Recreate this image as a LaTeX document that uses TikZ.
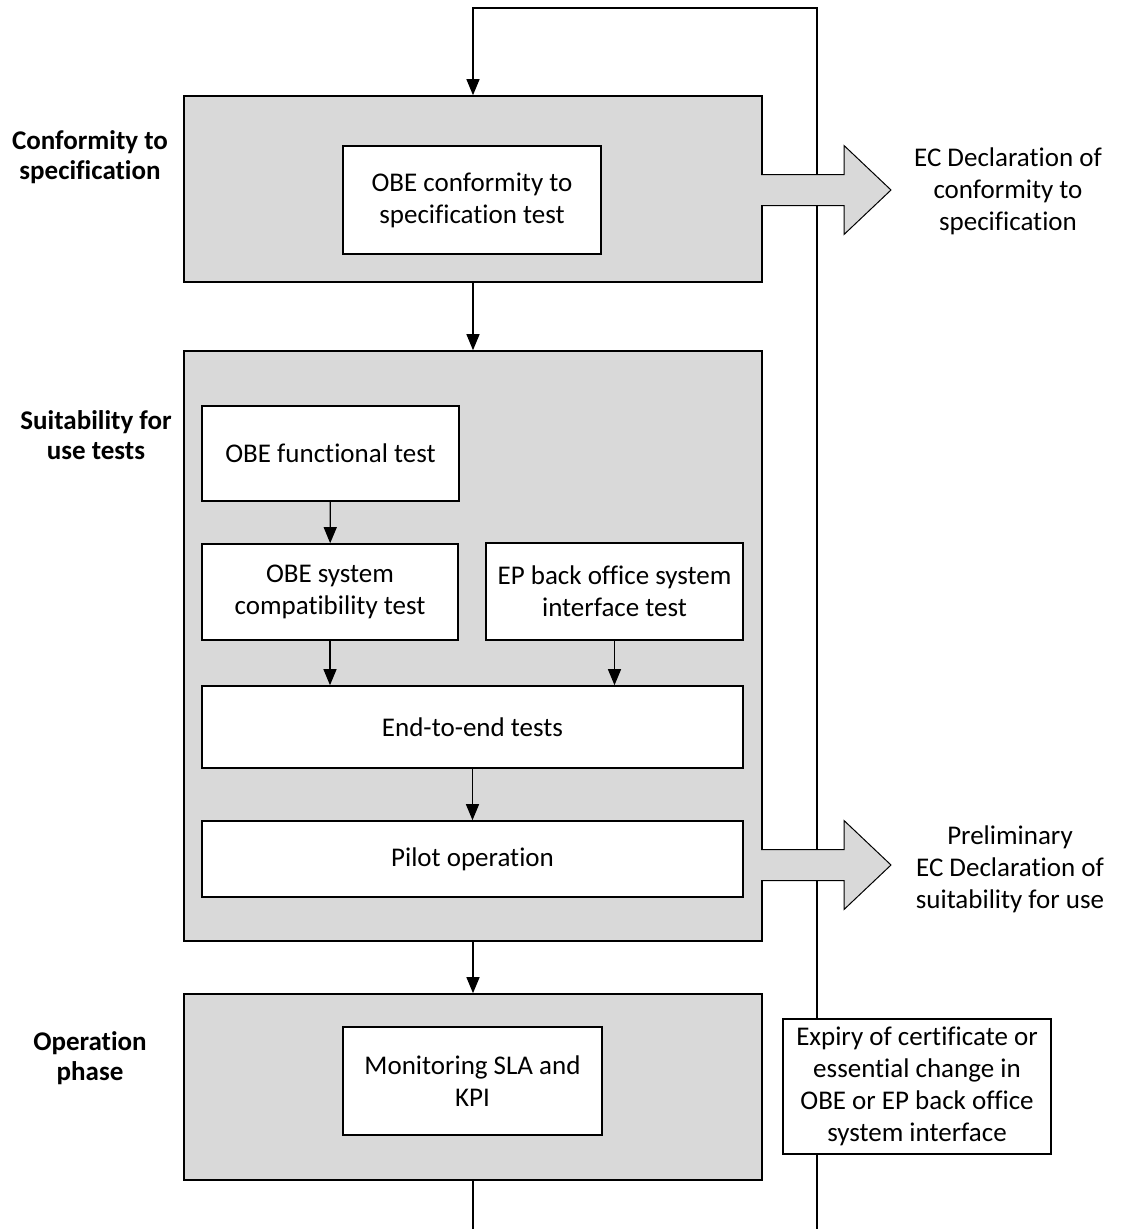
\documentclass[tikz,border=0pt]{standalone}
\usepackage{fontspec}
\setmainfont{Carlito}[Ligatures=NoCommon]
\usetikzlibrary{arrows.meta}
\definecolor{boxgray}{HTML}{D9D9D9}
\tikzset{
  every node/.style={font=\fontsize{27}{32}\selectfont, align=center, inner sep=0pt},
  phase/.style={draw, fill=boxgray, line width=1.6pt, minimum width=578pt},
  test/.style={draw, fill=white, line width=1.6pt},
  arr/.style={line width=1.2pt, -{Triangle[length=16pt,width=13pt]}},
  link/.style={line width=1.2pt},
  fatarr/.style={fill=boxgray, draw, line width=1pt, line join=miter},
  phaselabel/.style={font=\fontsize{27}{30}\selectfont\bfseries}
}
% broad arrow out of a phase box: #1 = x of box edge, #2 = y of middle
\newcommand{\fatarrow}[2]{%
  \filldraw[fatarr] (#1,#2-15.5) -- (844,#2-15.5) -- (844,#2-44.5) -- (891,#2)
    -- (844,#2+44.5) -- (844,#2+15.5) -- (#1,#2+15.5);}
\begin{document}
\begin{tikzpicture}[x=1pt,y=-1pt]
\useasboundingbox (0,0) rectangle (1121,1229);

% phases
\node[phase, minimum height=186pt] (conf) at (473,189) {};
\node[phase, minimum height=590pt] (suit) at (473,646) {};
\node[phase, minimum height=186pt] (oper) at (473,1087) {};

\node[phaselabel] (conflabel) at (90,157) {Conformity to\\specification};
\node[phaselabel] (suitlabel) at (96,435) {Suitability for\\use tests};
\node[phaselabel] (operlabel) at (90,1058) {Operation\\phase};

% tests
\node[test, minimum width=258pt, minimum height=108pt] (conftest) at (472,200) {OBE conformity to\\specification test};
\node[test, minimum width=257pt, minimum height=95pt] (func) at (330.5,453.5) {OBE functional test};
\node[test, minimum width=256pt, minimum height=96pt] (compat) at (330,592) {OBE system\\compatibility test};
\node[test, minimum width=257pt, minimum height=97pt] (epbo) at (614.5,591.5) {EP back office system\\interface test};
\node[test, minimum width=541pt, minimum height=82pt] (etoe) at (472.5,727) {End-to-end tests};
\node[test, minimum width=541pt, minimum height=76pt] (pilot) at (472.5,859) {Pilot operation};
\node[test, minimum width=259pt, minimum height=108pt] (monit) at (472.5,1081) {Monitoring SLA and\\KPI};

% flow
\draw[arr] (conf.south) -- (suit.north);
\draw[arr] (func) -- (compat);
\draw[arr] (compat) -- (compat |- etoe.north);
\draw[arr] (epbo) -- (epbo |- etoe.north);
\draw[arr] (etoe) -- (pilot);
\draw[arr] (suit.south) -- (oper.north);

% loop back to the start
\coordinate (loopbot) at (817,1229);
\coordinate (looptop) at (817,8);
\draw[link] (oper.south) -- (oper.south |- loopbot);
\draw[arr] (loopbot) -- (looptop) -| (conf.north);

% declarations
\fatarrow{761}{190}
\node (confdecl) at (1008,191) {EC Declaration of\\conformity to\\specification};
\fatarrow{761}{865}
\node (suitdecl) at (1010,869) {Preliminary\\EC Declaration of\\suitability for use};

\node[test, minimum width=268pt, minimum height=135pt] (expiry) at (917,1086.5) {Expiry of certificate or\\essential change in\\OBE or EP back office\\system interface};
\end{tikzpicture}
\end{document}
